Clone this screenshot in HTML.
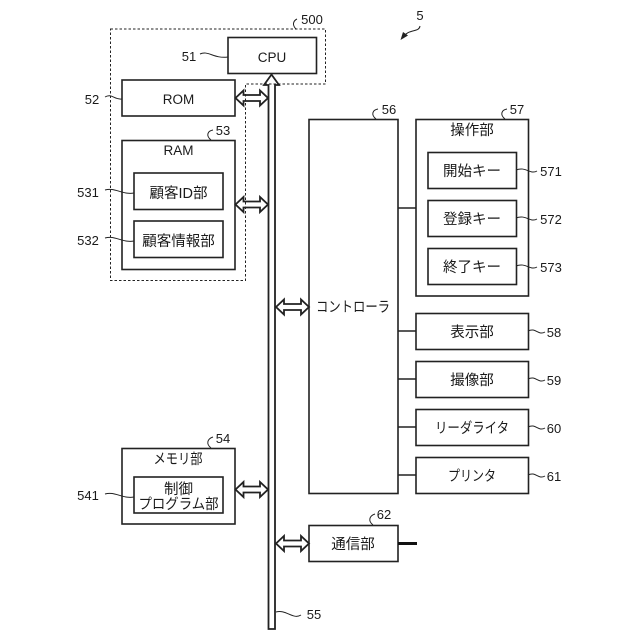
<!DOCTYPE html>
<html><head><meta charset="utf-8">
<style>
html,body{margin:0;padding:0;background:#fff}
svg{display:block}
text{font-family:"Liberation Sans","Noto Sans CJK JP",sans-serif;font-size:14.5px;fill:#1a1a1a;text-anchor:middle}
.n{font-size:13px;text-anchor:middle}
.m{font-size:13.5px}
.b{fill:#fff;stroke:#222;stroke-width:1.6}
.d{fill:none;stroke:#222;stroke-width:1;stroke-dasharray:2.5 2}
.l{fill:none;stroke:#222;stroke-width:1}
.a{fill:#fff;stroke:#222;stroke-width:1.8;stroke-linejoin:miter}
</style></head><body>
<svg width="640" height="640" viewBox="0 0 640 640" xmlns="http://www.w3.org/2000/svg">
<rect class="b" x="228" y="37.5" width="88.5" height="36"/>
<rect class="b" x="122" y="80" width="113" height="36"/>
<rect class="b" x="122" y="140.500" width="113" height="129"/>
<rect class="b" x="134" y="173" width="89" height="36.500"/>
<rect class="b" x="134" y="221" width="89" height="36.500"/>
<rect class="b" x="122" y="448.500" width="113" height="75.500"/>
<rect class="b" x="134" y="477" width="89" height="36"/>
<rect class="b" x="309" y="119.500" width="89" height="374"/>
<rect class="b" x="416" y="119.500" width="112.500" height="176.500"/>
<rect class="b" x="428" y="152.500" width="88.500" height="36"/>
<rect class="b" x="428" y="200.500" width="88.500" height="36"/>
<rect class="b" x="428" y="248.500" width="88.500" height="36"/>
<rect class="b" x="416" y="313.500" width="112.500" height="36"/>
<rect class="b" x="416" y="361.500" width="112.500" height="36"/>
<rect class="b" x="416" y="409.500" width="112.500" height="36"/>
<rect class="b" x="416" y="457.500" width="112.500" height="36"/>
<rect class="b" x="309" y="525.500" width="89" height="36"/>

<path class="a" d="M268.500 629V85H264L271.500 74.500L279 85H275V629Z"/>

<path class="a" d="M235.500 98L243.500 90.500V95H260V90.500L268 98L260 105.500V101H243.500V105.500Z"/>
<path class="a" d="M235.500 204.500L243.500 197V201.500H260V197L268 204.500L260 212V207.500H243.500V212Z"/>
<path class="a" d="M235.500 489.500L243.500 482V486.500H260V482L268 489.500L260 497V492.500H243.500V497Z"/>
<path class="a" d="M276 307L284 299.500V304H301V299.500L309 307L301 314.500V310H284V314.500Z"/>
<path class="a" d="M276 543.500L284 536V540.500H301V536L309 543.500L301 551V546.500H284V551Z"/>

<path class="d" d="M110.500 29H325.500V84H245.500V280.500H110.500Z"/>

<path d="M398 208H416M398 331H416M398 379H416M398 427H416M398 475H416" stroke="#222" stroke-width="1.400" fill="none"/>
<path d="M398 543.500H417" stroke="#111" stroke-width="3" fill="none"/>

<!-- leaders -->
<path class="l" d="M200 54C208 50 214 59 228 57"/>
<path class="l" d="M105 97C112 93 114 100 122 99"/>
<path class="l" d="M296 29C292 25 293 21 297 19"/>
<path class="l" d="M211 140C206 136 207 131 213 130"/>
<path class="l" d="M105 190C115 187 122 195 134 193"/>
<path class="l" d="M105 238C115 235 122 243 134 241"/>
<path class="l" d="M211 448C206 444 207 439 213 437"/>
<path class="l" d="M105 494C115 491 122 499 134 497"/>
<path class="l" d="M376 119C371 115 372 110 378 109"/>
<path class="l" d="M505 119C500 115 501 110 507 109"/>
<path class="l" d="M516 170C526 166 530 175 537 171"/>
<path class="l" d="M516 218C526 214 530 223 537 219"/>
<path class="l" d="M516 266C526 262 530 271 537 267"/>
<path class="l" d="M528 331C536 327 538 336 545 332"/>
<path class="l" d="M528 379C536 375 538 384 545 380"/>
<path class="l" d="M528 427C536 423 538 432 545 428"/>
<path class="l" d="M528 475C536 471 538 480 545 476"/>
<path class="l" d="M373 525C368 521 369 516 375 514"/>
<path class="l" d="M276 612C286 609 293 620 301 615"/>
<path class="l" d="M420 26C419 33 408 28 403 38"/>
<path d="M400.500 40L408 35.500L403 32Z" fill="#222"/>

<!-- labels -->
<text class="m" x="272" y="62">CPU</text>
<text class="m" x="178.500" y="104">ROM</text>
<text class="m" x="178.500" y="155">RAM</text>
<text x="178.500" y="198">顧客ID部</text>
<text x="178.500" y="246">顧客情報部</text>
<text x="178" y="464" textLength="49" lengthAdjust="spacingAndGlyphs">メモリ部</text>
<text x="178.500" y="494">制御</text>
<text x="178.500" y="509" textLength="80" lengthAdjust="spacingAndGlyphs">プログラム部</text>
<text x="353" y="312" textLength="74" lengthAdjust="spacingAndGlyphs">コントローラ</text>
<text x="472" y="135">操作部</text>
<text x="472" y="176">開始キー</text>
<text x="472" y="224">登録キー</text>
<text x="472" y="272">終了キー</text>
<text x="472" y="337">表示部</text>
<text x="472" y="385">撮像部</text>
<text x="472" y="433" textLength="74" lengthAdjust="spacingAndGlyphs">リーダライタ</text>
<text x="472" y="481" textLength="48" lengthAdjust="spacingAndGlyphs">プリンタ</text>
<text x="353" y="549">通信部</text>

<text class="n" x="312" y="24">500</text>
<text class="n" x="189" y="61">51</text>
<text class="n" x="92" y="104">52</text>
<text class="n" x="223" y="135">53</text>
<text class="n" x="88" y="197">531</text>
<text class="n" x="88" y="245">532</text>
<text class="n" x="223" y="443">54</text>
<text class="n" x="88" y="500">541</text>
<text class="n" x="389" y="114">56</text>
<text class="n" x="517" y="114">57</text>
<text class="n" x="551" y="176">571</text>
<text class="n" x="551" y="224">572</text>
<text class="n" x="551" y="272">573</text>
<text class="n" x="554" y="337">58</text>
<text class="n" x="554" y="385">59</text>
<text class="n" x="554" y="433">60</text>
<text class="n" x="554" y="481">61</text>
<text class="n" x="384" y="519">62</text>
<text class="n" x="314" y="619">55</text>
<text class="n" x="420" y="20">5</text>
</svg>
</body></html>
